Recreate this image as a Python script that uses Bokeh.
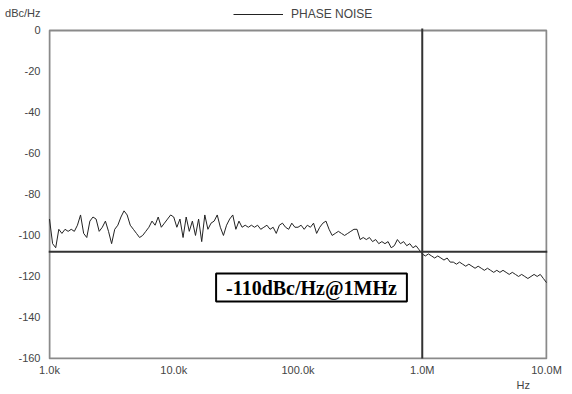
import numpy as np
from bokeh.plotting import figure
from bokeh.models import Span, Label, Legend, LegendItem, FixedTicker, Range1d, LogAxis
from bokeh.embed import file_html
from bokeh.resources import INLINE

# ---- data ----
decade_1k_10k = [-92, -104, -106, -97, -99, -97, -98, -97, -98, -95,
                 -90, -99, -101, -93, -91, -92, -98, -96, -93, -98,
                 -104, -97, -95, -91, -88, -90, -95, -97, -99, -101,
                 -100, -98, -96, -93, -95, -91, -96, -94, -92, -90]
decade_10k_100k = [-91, -96, -92, -101, -91, -98, -93, -100, -92, -103,
                   -90, -97, -94, -93, -90, -96, -100, -95, -92, -90,
                   -97, -93, -96, -95, -96, -95, -96, -95, -97, -96,
                   -95, -97, -96, -99, -95, -94, -96, -97, -94, -96]
decade_100k_1M = [-96, -95, -97, -95, -96, -94, -99, -96, -94, -93,
                  -97, -100, -99, -98, -99, -100, -99, -98, -97, -97,
                  -102, -101, -102, -101, -103, -102, -104, -103, -104, -103,
                  -106, -105, -102, -104, -103, -105, -104, -106, -105, -107]
decade_1M_10M = [-109, -110, -109, -110, -111, -110, -111, -112, -111, -113,
                 -113, -114, -113, -114, -115, -114, -115, -116, -115, -116,
                 -117, -116, -117, -118, -117, -118, -117, -118, -119, -118,
                 -119, -120, -119, -120, -121, -120, -119, -120, -119, -121, -123]
phase_noise = decade_1k_10k + decade_10k_100k + decade_100k_1M + decade_1M_10M
freq = np.logspace(3, 7, len(phase_noise))

x_min, x_max = 1e3, 1e7
y_min, y_max = -160, 0
x_tick_values = [1e3, 1e4, 1e5, 1e6, 1e7]
x_tick_labels = ["1.0k", "10.0k", "100.0k", "1.0M", "10.0M"]
y_tick_values = [0, -20, -40, -60, -80, -100, -120, -140, -160]
y_tick_labels = ["0", "-20", "-40", "-60", "-80", "-100", "-120", "-140", "-160"]
marker_freq = 1e6
marker_level = -108
series_name = "PHASE NOISE"
y_unit = "dBc/Hz"
x_unit = "Hz"
annotation_text = "-110dBc/Hz@1MHz"

# placement constants (style, not data)
Y_TOP = 14.6            # headroom above 0 for the legend row
Y_UNIT_POS = 8.3        # where the y-unit text sits above the top tick
X_UNIT_POS = 6.5e6      # where the x-unit text sits under the axis
PAD_DEC = 0.008         # tiny range padding so the frame box lines are not clipped

GRAY = "#8a8a8a"
TXT = "#444444"

p = figure(width=572, height=394, x_axis_type="log",
           x_range=Range1d(10 ** (3 - PAD_DEC), 10 ** (7 + PAD_DEC)),
           y_range=Range1d(-160.5, Y_TOP),
           output_backend="svg", toolbar_location=None,
           min_border_left=48, min_border_right=25,
           min_border_top=0, min_border_bottom=35)
p.background_fill_color = "white"
p.border_fill_color = "white"
p.grid.visible = False
p.outline_line_color = None

def style_axis(ax, standoff):
    ax.axis_line_color = None
    ax.major_tick_line_color = None
    ax.minor_tick_line_color = None
    ax.major_tick_out = 0
    ax.major_tick_in = 0
    ax.minor_tick_out = 0
    ax.minor_tick_in = 0
    ax.major_label_text_font = "Liberation Sans"
    ax.major_label_text_font_size = "11px"
    ax.major_label_text_color = TXT
    ax.major_label_standoff = standoff

style_axis(p.xaxis[0], 4)
style_axis(p.yaxis[0], 8)
p.xaxis.ticker = FixedTicker(ticks=x_tick_values)
p.xaxis.major_label_overrides = {v: s for v, s in zip(x_tick_values, x_tick_labels)}
p.yaxis.ticker = FixedTicker(ticks=y_tick_values + [Y_UNIT_POS])
overrides = {v: s for v, s in zip(y_tick_values, y_tick_labels)}
overrides[Y_UNIT_POS] = y_unit
p.yaxis.major_label_overrides = overrides

unit_axis = LogAxis(ticker=FixedTicker(ticks=[X_UNIT_POS]),
                    major_label_overrides={X_UNIT_POS: x_unit})
style_axis(unit_axis, 0)
p.add_layout(unit_axis, "below")

# plot box
p.quad(left=[x_min], right=[x_max], bottom=[y_min], top=[y_max],
       fill_color=None, line_color=GRAY, line_width=2)

r = p.line(freq, phase_noise, line_color="#222222", line_width=1)

# markers
p.segment(x0=[marker_freq], y0=[y_min], x1=[marker_freq], y1=[y_max + 1],
          line_color="#333333", line_width=2)
p.add_layout(Span(location=marker_level, dimension="width",
                  line_color="#333333", line_width=2))

legend = Legend(items=[LegendItem(label=series_name, renderers=[r])],
                location=(185, 338), padding=0, margin=0, spacing=0,
                glyph_width=50, glyph_height=12, label_height=12, label_standoff=8,
                label_text_font="Liberation Sans", label_text_font_size="12px",
                label_text_color=TXT, border_line_color=None,
                background_fill_alpha=0)
p.add_layout(legend, "center")

p.add_layout(Label(x=263, y=72, x_units="screen", y_units="screen",
                   text=annotation_text, text_align="center", text_baseline="middle",
                   text_font="Liberation Serif", text_font_style="bold",
                   text_font_size="20px", text_color="black",
                   border_line_color="black", border_line_width=2,
                   background_fill_color="white", padding=(10, 3)))

open("out.html", "w").write(file_html(p, INLINE))
